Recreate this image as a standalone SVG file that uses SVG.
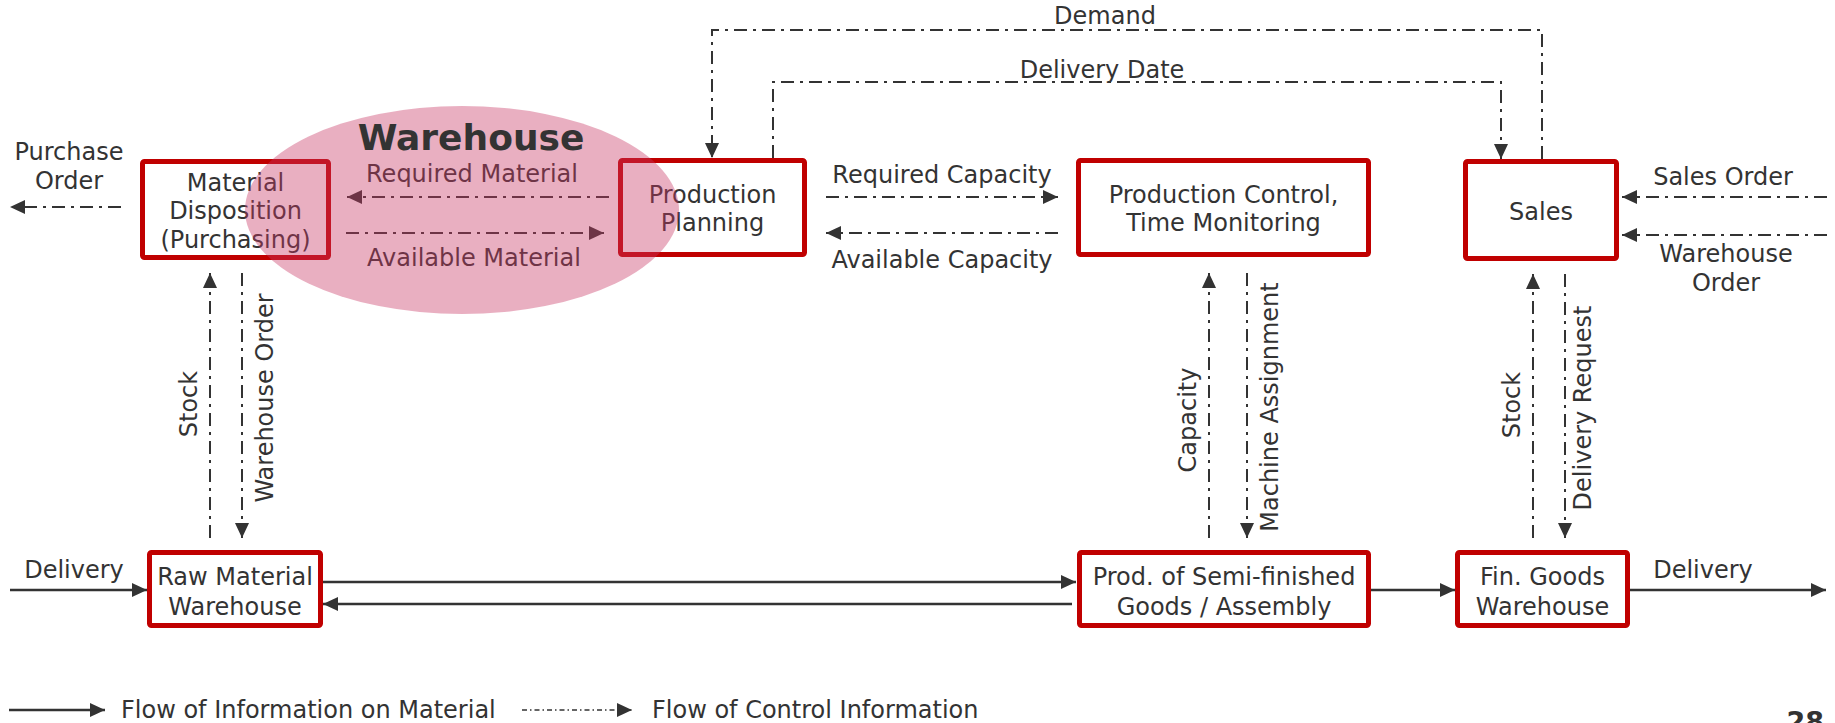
<svg xmlns="http://www.w3.org/2000/svg" width="1835" height="723" viewBox="0 0 1835 723">
  <defs>
    <style>
      .box{fill:none;stroke:#c00000;stroke-width:5;}
      .t{font-family:"DejaVu Sans",Verdana,sans-serif;font-size:24px;fill:#333333;text-anchor:middle;}
      .ts{font-family:"DejaVu Sans",Verdana,sans-serif;font-size:24px;fill:#333333;text-anchor:start;}
      .ctl{fill:none;stroke:#333333;stroke-width:2;stroke-dasharray:13 6 3 6;}
      .mat{fill:none;stroke:#333333;stroke-width:2.5;}
      .legctl{fill:none;stroke:#333333;stroke-width:1.5;stroke-dasharray:5 3 1.5 3;}
    </style>
    <marker id="ah" markerUnits="userSpaceOnUse" markerWidth="16" markerHeight="16" viewBox="0 0 16 16" refX="15" refY="8" orient="auto">
      <path d="M0,1 L15,8 L0,15 z" fill="#333333"/>
    </marker>
  </defs>

  <rect x="0" y="0" width="1835" height="723" fill="#ffffff"/>

  <!-- nodes -->
  <g id="material-disposition">
    <rect class="box" x="142.5" y="161.5" width="186" height="96" rx="2"/>
    <text class="t" x="235.5" y="191">Material</text>
    <text class="t" x="235.5" y="219">Disposition</text>
    <text class="t" x="235.5" y="248">(Purchasing)</text>
  </g>
  <g id="production-planning">
    <rect class="box" x="620.5" y="160.5" width="184" height="94" rx="2"/>
    <text class="t" x="712.5" y="203">Production</text>
    <text class="t" x="712.5" y="231">Planning</text>
  </g>
  <g id="production-control">
    <rect class="box" x="1078.5" y="160.5" width="290" height="94" rx="2"/>
    <text class="t" x="1223.5" y="203">Production Control,</text>
    <text class="t" x="1223.5" y="231">Time Monitoring</text>
  </g>
  <g id="sales">
    <rect class="box" x="1465.5" y="161.5" width="151" height="97" rx="2"/>
    <text class="t" x="1541" y="220">Sales</text>
  </g>
  <g id="raw-material-warehouse">
    <rect class="box" x="149.5" y="552.5" width="171" height="73" rx="2"/>
    <text class="t" x="235" y="585">Raw Material</text>
    <text class="t" x="235" y="615">Warehouse</text>
  </g>
  <g id="semi-finished-production">
    <rect class="box" x="1079.5" y="552.5" width="289" height="73" rx="2"/>
    <text class="t" x="1224" y="585">Prod. of Semi-finished</text>
    <text class="t" x="1224" y="615">Goods / Assembly</text>
  </g>
  <g id="finished-goods-warehouse">
    <rect class="box" x="1457.5" y="552.5" width="170" height="73" rx="2"/>
    <text class="t" x="1542.5" y="585">Fin. Goods</text>
    <text class="t" x="1542.5" y="615">Warehouse</text>
  </g>

  <!-- connectors -->
  <g id="connectors">
    <!-- control information -->
    <path class="ctl" d="M121,207 H10" marker-end="url(#ah)"/>
    <path class="ctl" d="M609,197 H347" marker-end="url(#ah)"/>
    <path class="ctl" d="M346,233 H604" marker-end="url(#ah)"/>
    <path class="ctl" d="M826,197 H1058" marker-end="url(#ah)"/>
    <path class="ctl" d="M1058,233 H826" marker-end="url(#ah)"/>
    <path class="ctl" d="M1827,197 H1622" marker-end="url(#ah)"/>
    <path class="ctl" d="M1827,235 H1622" marker-end="url(#ah)"/>
    <path class="ctl" d="M1542,159 V30 H712 V158" marker-end="url(#ah)"/>
    <path class="ctl" d="M773,158 V82 H1501 V159" marker-end="url(#ah)"/>
    <path class="ctl" d="M210,538 V273" marker-end="url(#ah)"/>
    <path class="ctl" d="M242,273 V538" marker-end="url(#ah)"/>
    <path class="ctl" d="M1209,538 V273" marker-end="url(#ah)"/>
    <path class="ctl" d="M1247,273 V538" marker-end="url(#ah)"/>
    <path class="ctl" d="M1533,538 V274" marker-end="url(#ah)"/>
    <path class="ctl" d="M1565,274 V538" marker-end="url(#ah)"/>
    <!-- material flow -->
    <path class="mat" d="M10,590 H147" marker-end="url(#ah)"/>
    <path class="mat" d="M323,582 H1076" marker-end="url(#ah)"/>
    <path class="mat" d="M1072,604 H323" marker-end="url(#ah)"/>
    <path class="mat" d="M1371,590 H1455" marker-end="url(#ah)"/>
    <path class="mat" d="M1630,590 H1826" marker-end="url(#ah)"/>
  </g>

  <!-- connector labels -->
  <g id="labels">
    <text class="t" x="69" y="160">Purchase</text>
    <text class="t" x="69" y="189">Order</text>
    <text class="t" x="472" y="182">Required Material</text>
    <text class="t" x="474" y="266">Available Material</text>
    <text class="t" x="942" y="183">Required Capacity</text>
    <text class="t" x="942" y="268">Available Capacity</text>
    <text class="t" x="1105" y="24">Demand</text>
    <text class="t" x="1102" y="78">Delivery Date</text>
    <text class="t" x="1723" y="185">Sales Order</text>
    <text class="t" x="1726" y="262">Warehouse</text>
    <text class="t" x="1726" y="291">Order</text>
    <text class="t" x="74" y="578">Delivery</text>
    <text class="t" x="1703" y="578">Delivery</text>
    <text class="t" transform="translate(197,404) rotate(-90)">Stock</text>
    <text class="t" transform="translate(273,398) rotate(-90)">Warehouse Order</text>
    <text class="t" transform="translate(1196,420) rotate(-90)">Capacity</text>
    <text class="t" transform="translate(1278,407) rotate(-90)">Machine Assignment</text>
    <text class="t" transform="translate(1520,405) rotate(-90)">Stock</text>
    <text class="t" transform="translate(1591,408) rotate(-90)">Delivery Request</text>
  </g>

  <!-- warehouse highlight -->
  <g id="warehouse-area">
    <ellipse cx="462" cy="210" rx="217" ry="104" fill="rgb(200,55,100)" fill-opacity="0.4"/>
    <text x="471" y="150" font-family="DejaVu Sans, Verdana, sans-serif" font-size="36" font-weight="bold" fill="#333333" text-anchor="middle">Warehouse</text>
  </g>

  <!-- legend -->
  <g id="legend">
    <path class="mat" d="M9,710 H105" marker-end="url(#ah)"/>
    <text class="ts" x="121" y="718">Flow of Information on Material</text>
    <path class="legctl" d="M522,710 H632" marker-end="url(#ah)"/>
    <text class="ts" x="652" y="718">Flow of Control Information</text>
  </g>

  <text x="1824" y="731" font-family="DejaVu Sans, Verdana, sans-serif" font-size="27" font-weight="bold" fill="#333333" text-anchor="end">28</text>
</svg>
